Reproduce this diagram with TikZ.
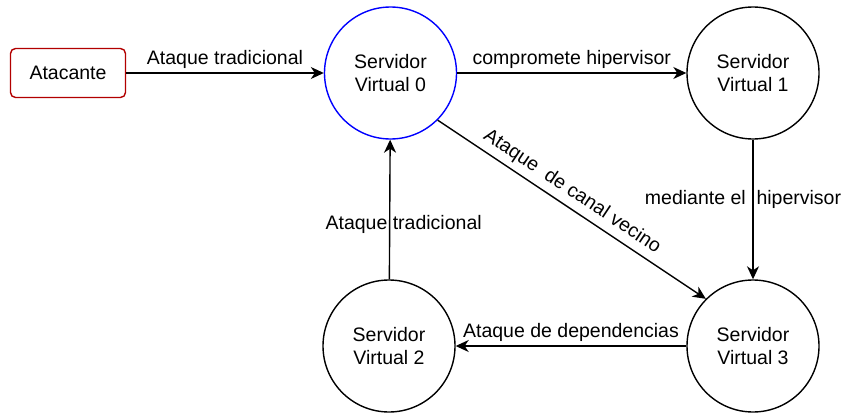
\documentclass[tikz,border=0pt]{standalone}
\usepackage{fontspec}
\setmainfont{Liberation Sans}
\usetikzlibrary{positioning, arrows.meta}

\begin{document}
\begin{tikzpicture}[
  x=1pt, y=-1pt,
  font=\fontsize{19.5}{23}\selectfont,
  server/.style   = {circle, draw=black, line width=1.4pt,
                     minimum size=132pt, inner sep=0pt, align=center},
  attacker/.style = {draw=red!70!black, line width=1.4pt, rounded corners=5pt,
                     minimum width=115pt, minimum height=49pt},
  arr/.style      = {-{Stealth[length=13pt,width=12pt,inset=4pt]},
                     line width=1.4pt},
]
\useasboundingbox (0,0) rectangle (845,412);

% =============================================================
% Nodes
% =============================================================
% positions in pixels of the page, y counted downwards
\node[attacker] (atk) at (68, 73) {Atacante};
\node[server, draw=blue] (sv0) at (390.5, 73) {Servidor\\Virtual 0};
\node[server] (sv1) at (753, 73)  {Servidor\\Virtual 1};
\node[server] (sv2) at (389, 346) {Servidor\\Virtual 2};
\node[server] (sv3) at (753, 346) {Servidor\\Virtual 3};

% =============================================================
% Attack paths
% =============================================================
\draw[arr] (atk) -- node[above] {Ataque tradicional} (sv0);
\draw[arr] (sv0) -- node[above] {compromete hipervisor} (sv1);
\draw[arr] (sv1) -- node[pos=0.43, xshift=-10pt] {mediante el\ \ hipervisor} (sv3);
\draw[arr] (sv0.-45) -- node[sloped, above=2pt, pos=0.47] {Ataque\ \ de canal vecino} (sv3.135);
\draw[arr] (sv3) -- node[above] {Ataque de dependencias} (sv2);
\draw[arr] (sv2) -- node[pos=0.39, xshift=14pt] {Ataque tradicional} (sv0);

\end{tikzpicture}
\end{document}
